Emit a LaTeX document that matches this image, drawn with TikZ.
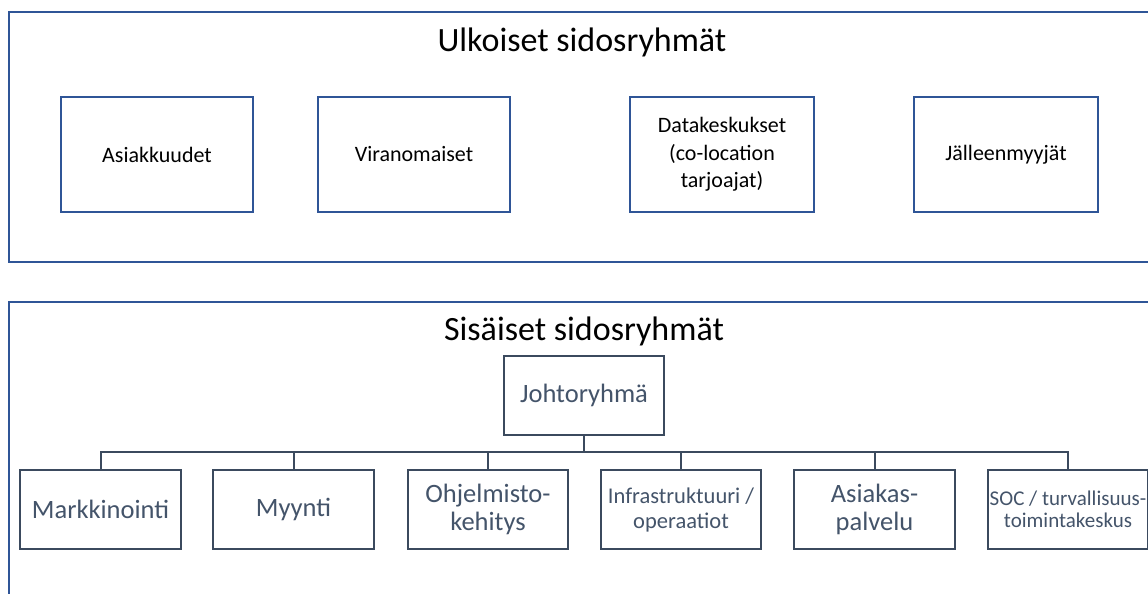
\documentclass[tikz,border=0pt]{standalone}
\usepackage{fontspec}
\setmainfont{Carlito}
\definecolor{obox}{HTML}{2F5597}
\definecolor{ibox}{HTML}{3B4A5E}
\definecolor{itext}{HTML}{44546A}
\begin{document}
\begin{tikzpicture}[x=1pt,y=-1pt,
  frame/.style={draw=obox,line width=2pt},
  extbox/.style={draw=obox,line width=2pt,minimum width=192pt,minimum height=115pt,align=center,font=\fontsize{22}{27.5}\selectfont,anchor=north west,inner sep=2pt},
  intbox/.style={draw=ibox,line width=2pt,minimum width=160pt,minimum height=79pt,align=center,text=itext,anchor=north west,inner sep=1pt},
  title/.style={font=\fontsize{34}{40}\selectfont},
  link/.style={draw=ibox,line width=2pt}]
\useasboundingbox (0,0) rectangle (1148,594);
\clip (0,0) rectangle (1148,594);
\fill[white] (0,0) rectangle (1148,594);
% frames
\draw[frame] (9,12) rectangle (1170,262);
\draw[frame] (9,302) rectangle (1170,620);
\node[title] (t1) at (582,42) {Ulkoiset sidosryhmät};
\node[title] (t2) at (584,331) {Sisäiset sidosryhmät};
% external
\node[extbox] (a1) at (60,96) {Asiakkuudet};
\node[extbox] (a2) at (317,96) {Viranomaiset};
\node[extbox,minimum width=184pt] (a3) at (629,96) {Datakeskukset\\(co-location\\tarjoajat)};
\node[extbox,minimum width=184pt] (a4) at (913,96) {Jälleenmyyjät};
% internal
\node[intbox,font=\fontsize{26.5}{28}\selectfont] (jr) at (503,355) {Johtoryhmä};
\coordinate (bus) at (583,452);
\node[intbox,minimum width=161pt,font=\fontsize{26.5}{28}\selectfont] (c1) at (19,469) {Markkinointi};
\node[intbox,minimum width=161pt,font=\fontsize{26.5}{28}\selectfont] (c2) at (212,469) {Myynti};
\node[intbox,font=\fontsize{26.5}{28}\selectfont] (c3) at (407,469) {Ohjelmisto-\\kehitys};
\node[intbox,font=\fontsize{22.5}{25}\selectfont] (c4) at (600,469) {Infrastruktuuri /\\operaatiot};
\node[intbox,minimum width=161pt,font=\fontsize{26.5}{28}\selectfont] (c5) at (793,469) {Asiakas-\\palvelu};
\node[intbox,font=\fontsize{21}{22.5}\selectfont,inner sep=0pt] (c6) at (987,469) {SOC / turvallisuus-\\toimintakeskus};
% connectors
\foreach \c in {c1,c2,c3,c4,c5,c6}
  \draw[link] (jr.south) -- (jr.south |- bus) -| (\c.north);
\end{tikzpicture}
\end{document}
